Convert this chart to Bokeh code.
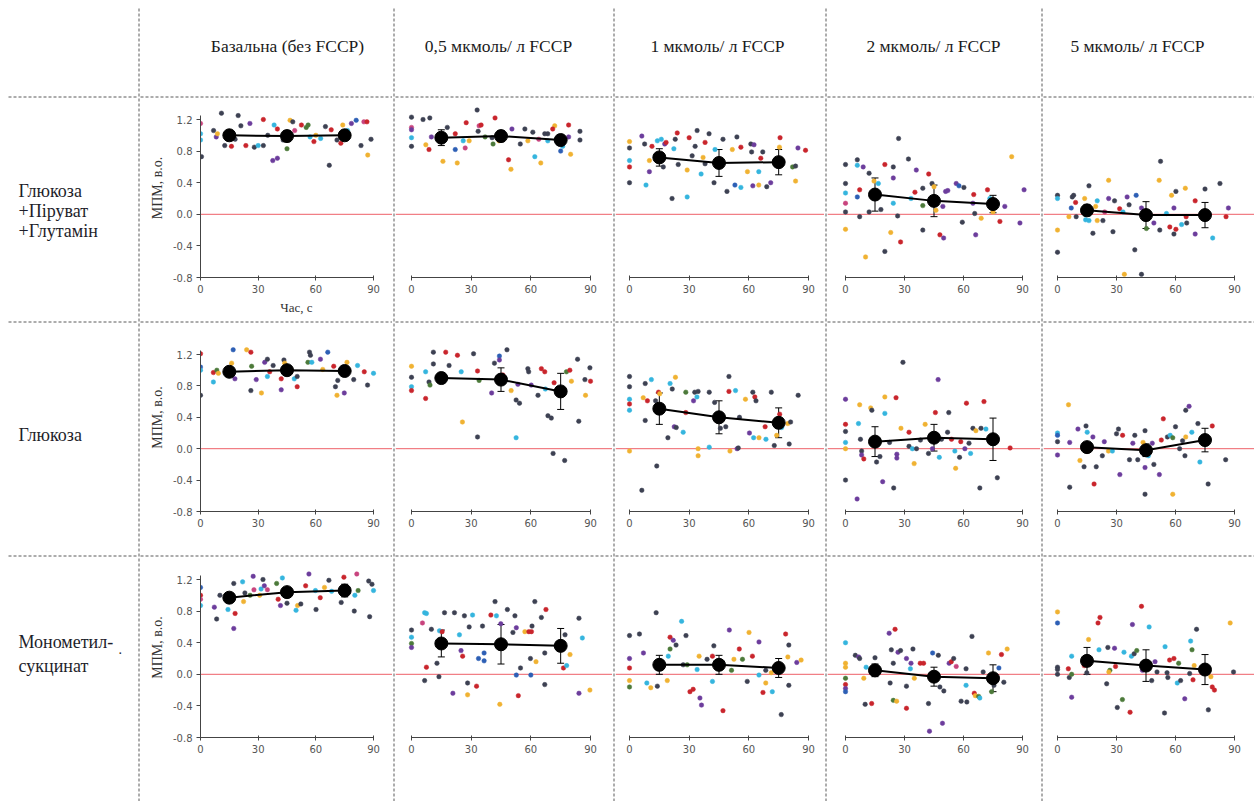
from bokeh.plotting import figure
from bokeh.layouts import row, column
from bokeh.models import Range1d, FixedTicker, PrintfTickFormatter, Span, Whisker, TeeHead, ColumnDataSource
from bokeh.core.properties import value
from bokeh.embed import file_html
from bokeh.resources import INLINE

# ---------------- data ----------------
col_headers = ["Базальна (без FCCP)", "0,5 мкмоль/ л FCCP", "1 мкмоль/ л FCCP",
               "2 мкмоль/ л FCCP", "5 мкмоль/ л FCCP"]
row_labels = [["Глюкоза", "+Піруват", "+Глутамін"], ["Глюкоза"], ["Монометил-", "сукцинат"]]
y_label = "МПМ, в.о."
x_label = "Час, с"
times = [15, 45, 75]
y_ticks = [-0.8, -0.4, 0.0, 0.4, 0.8, 1.2]
x_ticks = [0, 30, 60, 90]

COLORS = {'k': '#3d4152', 'r': '#c9252c', 'c': '#35b5de', 'p': '#6c3d9c',
          'o': '#f0b232', 'g': '#4c7a3a', 'm': '#c8447e', 'b': '#2d5fb5'}

# means and SEM per row: one list per FCCP column, values at 15, 45, 75 s
mean_gpg = [[1.0, 0.99, 1.0], [0.97, 0.99, 0.94], [0.72, 0.65, 0.66], [0.25, 0.17, 0.13], [0.05, -0.01, -0.01]]
err_gpg = [[0.06, 0.07, 0.05], [0.1, 0.07, 0.06], [0.11, 0.17, 0.16], [0.21, 0.2, 0.11], [0.07, 0.17, 0.16]]
mean_glc = [[0.98, 1.0, 0.99], [0.9, 0.88, 0.73], [0.51, 0.4, 0.33], [0.09, 0.14, 0.12], [0.02, -0.02, 0.11]]
err_glc = [[0.05, 0.05, 0.06], [0.04, 0.15, 0.23], [0.2, 0.21, 0.19], [0.19, 0.17, 0.27], [0.06, 0.08, 0.15]]
mean_mms = [[0.97, 1.04, 1.06], [0.39, 0.38, 0.36], [0.12, 0.12, 0.08], [0.05, -0.03, -0.05], [0.17, 0.11, 0.06]]
err_mms = [[0.04, 0.04, 0.08], [0.17, 0.25, 0.22], [0.12, 0.12, 0.12], [0.08, 0.12, 0.17], [0.17, 0.2, 0.19]]

# individual cells (time, value, colour)
gpg_basal = [(0,1.02,'c'),(0,0.94,'c'),(0.5,0.73,'k'),(0,1.15,'m'),(10.9,1.28,'k'),(19.6,1.25,'k'),(6.8,1.06,'k'),(8.2,0.98,'p'),(8.8,1.02,'o'),(12.6,0.87,'k'),(16.1,0.86,'r'),(21,1.12,'k'),(25.7,1.15,'p'),(23.6,0.87,'r'),(28,0.85,'k'),(30,0.87,'c'),(32.7,0.87,'k'),(32.7,1.2,'r'),(37.6,0.68,'p'),(40,0.71,'p'),(38.3,1.13,'c'),(40,1.08,'r'),(43,0.94,'k'),(45,0.83,'g'),(46.6,1.19,'o'),(48,1.17,'k'),(49,1.06,'m'),(52.5,1.13,'r'),(55,1.1,'g'),(56,1.13,'g'),(59,0.92,'r'),(57,0.98,'c'),(62.5,0.96,'c'),(65,1.11,'k'),(68,1.07,'r'),(67,0.62,'k'),(71,0.94,'k'),(73,0.9,'r'),(74,1.13,'o'),(76.5,1.06,'c'),(78.5,1.15,'p'),(81,1.19,'b'),(83.5,0.87,'k'),(85,1.17,'m'),(86.6,1.17,'r'),(87,0.75,'o'),(88.7,0.95,'k'),(14,1.0,'o'),(18,0.95,'k'),(35,1.0,'k'),(60,1.0,'o')]
gpg_05 = [(0,1.23,'k'),(0,1.10,'m'),(0,1.07,'p'),(0,0.97,'c'),(0,0.86,'k'),(5.8,1.2,'k'),(9.2,1.22,'k'),(7.2,0.88,'o'),(8.8,0.82,'r'),(10,0.98,'p'),(15.8,0.67,'o'),(18,1.1,'k'),(22,1.02,'r'),(22,0.82,'b'),(23,0.65,'o'),(26,0.93,'c'),(27,0.84,'m'),(27.5,1.16,'r'),(29,0.93,'o'),(33,1.32,'k'),(34,1.12,'m'),(35,1.13,'r'),(33.5,1.05,'k'),(37,0.98,'g'),(40.5,0.97,'k'),(42,1.22,'r'),(41,0.89,'g'),(44,0.93,'o'),(48.8,0.69,'r'),(50,0.57,'o'),(50.5,1.08,'p'),(54.7,0.89,'k'),(57,1.08,'k'),(58.5,0.93,'o'),(61,1.04,'k'),(62,0.73,'c'),(64,0.95,'m'),(65,0.65,'o'),(67,1.02,'k'),(68.5,1.02,'k'),(68.5,0.93,'c'),(72,1.12,'o'),(71,1.08,'r'),(75,0.8,'b'),(76,0.86,'c'),(79,1.13,'r'),(79,0.98,'p'),(80,0.76,'o'),(84.7,1.05,'k'),(84.7,0.94,'k')]
gpg_1 = [(0,0.92,'o'),(0,0.84,'k'),(0,0.68,'c'),(0,0.6,'r'),(0,0.4,'k'),(6.2,0.99,'p'),(7.6,0.89,'k'),(8.3,0.37,'c'),(10,0.54,'p'),(10,0.68,'o'),(11.3,0.86,'r'),(14,0.93,'c'),(16,0.95,'c'),(17.7,0.89,'p'),(18.4,0.91,'r'),(17,0.6,'k'),(21.4,0.2,'k'),(22.3,0.83,'c'),(23,0.95,'k'),(24,1.03,'r'),(24.5,0.63,'k'),(29,0.22,'c'),(29,0.56,'o'),(30,0.97,'r'),(31.5,0.74,'k'),(34,1.06,'k'),(33,0.86,'k'),(36,0.51,'c'),(37,0.72,'o'),(38,0.91,'r'),(38,0.64,'k'),(40,1.02,'k'),(42.5,0.4,'k'),(43,0.82,'c'),(47,0.95,'k'),(49,0.29,'k'),(51.7,0.82,'o'),(53,0.37,'b'),(54,0.98,'k'),(56,0.85,'r'),(56,0.34,'c'),(59.3,0.54,'o'),(61,0.89,'k'),(62.6,0.88,'p'),(61.4,0.79,'k'),(62,0.36,'p'),(65,0.54,'c'),(65,0.37,'o'),(66,0.71,'r'),(67,0.79,'k'),(69,0.35,'k'),(71,0.4,'p'),(75.7,0.97,'r'),(75.4,0.85,'o'),(82,0.6,'g'),(83.5,0.42,'o'),(84.7,0.84,'p'),(88.5,0.81,'r'),(83.5,0.61,'k')]
gpg_2 = [(0,0.63,'k'),(0,0.39,'k'),(0,0.27,'c'),(0,0.14,'m'),(0,0.03,'k'),(0,-0.19,'o'),(6,0.69,'k'),(6,0.62,'c'),(6,0.22,'b'),(7.2,0.31,'r'),(7.2,-0.03,'k'),(9,0.6,'p'),(10.2,-0.54,'o'),(12,0.52,'k'),(12,0.03,'k'),(14.5,0.42,'o'),(16.7,0.39,'c'),(18,0.06,'k'),(20,0.63,'r'),(20,-0.47,'k'),(23,-0.23,'o'),(24.3,0.6,'k'),(24.3,0.46,'p'),(24.3,0.14,'c'),(26.5,-0.02,'k'),(27,0.96,'k'),(28,-0.35,'r'),(32,0.7,'k'),(33.3,0.2,'c'),(36,0.56,'p'),(35.3,0.28,'r'),(39.3,0.33,'k'),(39.3,-0.2,'k'),(39.3,0.11,'g'),(42.3,0.51,'r'),(44,0.39,'k'),(45,0.35,'o'),(46,0.05,'o'),(48,-0.26,'r'),(49.9,-0.3,'p'),(49.5,0.1,'p'),(50.9,0.29,'p'),(52,0.3,'p'),(56.3,0.39,'p'),(57.7,0.36,'b'),(59.4,-0.1,'k'),(60.2,0.34,'k'),(65.2,0.25,'r'),(65.7,0.01,'k'),(66.2,-0.26,'p'),(64.8,0.14,'p'),(69,-0.05,'o'),(72.2,0.31,'r'),(73.4,0.2,'c'),(75,0.03,'o'),(78.5,-0.09,'r'),(81,0.1,'p'),(84.5,0.73,'o'),(88.7,-0.11,'p'),(90.8,0.31,'p')]
gpg_5 = [(0,0.24,'k'),(0,0.2,'c'),(0,-0.2,'o'),(0,-0.48,'k'),(5.8,-0.03,'o'),(7,0.08,'b'),(7.5,0.22,'k'),(8.2,0.24,'k'),(9.2,0.15,'r'),(9.5,-0.03,'k'),(13.8,0.2,'o'),(14.3,-0.07,'c'),(16,0.36,'k'),(16,-0.08,'c'),(16.7,0.03,'r'),(18,-0.24,'k'),(19.4,0.1,'o'),(20.2,0.17,'c'),(20.2,-0.08,'o'),(23.1,-0.08,'k'),(24,0.03,'m'),(26,0.43,'o'),(26,0.2,'p'),(28.2,-0.22,'k'),(29,0.17,'k'),(31.6,0.07,'r'),(33.3,0.03,'c'),(34,-0.76,'o'),(35.4,0.22,'p'),(36.4,0.12,'k'),(39.3,-0.45,'k'),(40,0.24,'b'),(42.7,-0.76,'k'),(42.7,0.08,'p'),(45.2,-0.18,'g'),(49,-0.11,'p'),(51.7,0.43,'o'),(52.4,0.67,'k'),(52,-0.2,'k'),(55.4,0.01,'c'),(57.1,-0.16,'r'),(58,0.24,'o'),(59.2,-0.25,'k'),(59.2,0.08,'p'),(60.2,0.29,'k'),(60.2,-0.19,'r'),(63.1,-0.13,'c'),(65,0.33,'o'),(65.4,-0.03,'r'),(65.7,-0.11,'k'),(70,0.17,'r'),(70,-0.25,'p'),(75,0.32,'k'),(78.9,-0.3,'c'),(82.6,0.39,'k'),(85.7,-0.03,'r'),(86.9,0.08,'p')]

glc_basal = [(0,1.21,'r'),(0,1.04,'b'),(0,1.0,'c'),(0,0.68,'k'),(6.7,0.97,'r'),(6.7,0.85,'c'),(8.5,1.0,'g'),(9.3,0.96,'o'),(16.2,1.09,'o'),(17,1.26,'b'),(17.9,0.89,'p'),(24,1.26,'o'),(26.2,1.23,'r'),(26.6,1.05,'g'),(26.2,0.74,'k'),(29,0.88,'p'),(31.7,0.71,'o'),(33.4,1.1,'p'),(34.8,1.14,'k'),(34.8,0.92,'c'),(36,0.98,'r'),(37.8,1.06,'k'),(42,0.89,'r'),(42,0.75,'p'),(43.4,1.13,'k'),(43.8,1.09,'o'),(48.8,0.89,'c'),(50.3,0.79,'r'),(50.3,0.92,'k'),(56.7,1.23,'k'),(57.2,1.19,'k'),(55.9,1.1,'g'),(57.9,1.1,'c'),(62.4,1.14,'p'),(66.2,1.23,'b'),(63.6,1.01,'o'),(69.3,1.05,'r'),(70.2,0.79,'k'),(71.4,0.87,'k'),(71,0.68,'o'),(74.8,0.71,'p'),(76.2,1.1,'o'),(79.7,0.88,'k'),(81.7,1.06,'c'),(85.2,0.98,'r'),(86.9,0.81,'k'),(90,0.96,'c')]
glc_05 = [(0,1.05,'o'),(0,0.91,'k'),(0,0.79,'c'),(0,0.74,'r'),(7.1,0.98,'c'),(7.1,0.64,'r'),(8.8,0.85,'k'),(9.3,0.81,'g'),(11,1.23,'k'),(11,1.08,'k'),(17.2,1.23,'r'),(18.9,1.06,'k'),(23.1,1.19,'r'),(25,0.98,'c'),(25.6,0.34,'o'),(31.2,1.21,'k'),(33.2,0.99,'r'),(33.2,0.15,'k'),(34,0.87,'g'),(40.3,0.71,'p'),(41.7,1.09,'k'),(44.2,1.18,'b'),(44.2,1.13,'p'),(45.9,0.94,'r'),(48,1.26,'k'),(50.1,0.74,'o'),(52.6,0.62,'k'),(54.3,0.58,'k'),(52.6,0.14,'c'),(53.5,0.82,'p'),(58.5,1.02,'k'),(58.9,0.98,'k'),(60.2,0.81,'p'),(63.6,0.68,'k'),(65.3,1.02,'r'),(67,0.98,'r'),(67.3,0.76,'c'),(68.6,0.42,'k'),(70.3,0.39,'k'),(71.7,0.84,'r'),(71.2,-0.06,'k'),(77,-0.15,'k'),(77.9,0.98,'g'),(79.6,1.0,'r'),(80.4,0.86,'o'),(83.5,1.14,'k'),(84.1,0.35,'k'),(87.2,0.88,'k'),(87.5,0.68,'o'),(89.7,1.03,'k'),(90,0.86,'r')]
glc_1 = [(0,0.92,'k'),(0,0.79,'k'),(0,0.63,'c'),(0,0.57,'r'),(0,0.49,'c'),(0,-0.03,'o'),(6.2,-0.53,'k'),(6.9,0.65,'o'),(7.9,0.83,'k'),(7.9,0.36,'k'),(9,0.61,'r'),(11,0.88,'c'),(13.1,0.61,'k'),(13.7,-0.22,'k'),(14.6,0.72,'r'),(15.2,0.7,'o'),(19.3,0.14,'k'),(20.4,0.83,'c'),(21.5,0.76,'k'),(22.5,0.28,'p'),(23.1,0.91,'o'),(23.5,0.27,'k'),(27,0.21,'c'),(28.3,0.72,'g'),(28.3,0.46,'r'),(32.2,0.61,'p'),(32.8,0.72,'k'),(33.9,0.66,'c'),(34.5,0.73,'k'),(34.5,0.0,'o'),(34.5,-0.09,'o'),(40.1,0.72,'k'),(40.1,0.02,'c'),(42.8,0.59,'k'),(44.3,0.43,'k'),(45.7,0.26,'k'),(48.4,0.28,'k'),(50,0.73,'r'),(50,0.92,'k'),(50.5,-0.03,'o'),(53.3,0.74,'c'),(54.1,0.0,'p'),(54.7,0.01,'k'),(55.3,0.4,'k'),(58.3,0.63,'o'),(60.3,0.2,'p'),(62,0.72,'k'),(62.4,0.14,'c'),(63,0.66,'r'),(63.6,0.61,'k'),(65.1,0.14,'o'),(68.2,0.28,'r'),(68.6,0.12,'c'),(71.3,0.72,'k'),(72.8,0.04,'k'),(74,0.17,'o'),(75.5,0.44,'r'),(76.5,0.27,'c'),(79.6,0.32,'o'),(80.3,0.06,'k'),(81,0.34,'k'),(84.8,0.68,'k')]
glc_2 = [(0,0.63,'p'),(0,0.31,'r'),(0,0.22,'k'),(0,0.08,'c'),(0,0.0,'o'),(0,-0.4,'k'),(5.9,-0.64,'p'),(6.6,0.32,'c'),(7.2,0.56,'o'),(7.6,0.12,'k'),(8.2,-0.03,'k'),(8.2,-0.08,'p'),(9.3,-0.13,'r'),(12.8,0.52,'o'),(13.4,0.49,'k'),(15.8,-0.17,'k'),(17.5,-0.1,'k'),(18.9,-0.42,'p'),(20,0.45,'c'),(20,0.66,'o'),(22.4,0.08,'k'),(24.5,-0.5,'k'),(25.7,0.65,'r'),(26.1,-0.07,'p'),(26.1,-0.12,'p'),(28.2,0.26,'o'),(29.2,1.1,'k'),(32.3,0.03,'k'),(32.3,0.21,'r'),(34,0.0,'c'),(34.9,-0.19,'o'),(36.1,0.0,'k'),(38.1,0.11,'k'),(40.5,0.31,'o'),(42.2,-0.06,'k'),(44.2,0.0,'p'),(45.7,0.46,'r'),(47.1,0.88,'p'),(47.7,-0.11,'c'),(48.8,0.12,'k'),(51.9,0.21,'k'),(52.5,0.46,'k'),(53.9,0.12,'r'),(55.6,-0.03,'c'),(56,-0.25,'o'),(58,-0.11,'k'),(58.6,0.09,'r'),(60.7,0.0,'p'),(61.5,0.58,'r'),(62.8,0.07,'k'),(63.6,-0.06,'c'),(64.8,0.26,'k'),(66.3,0.23,'o'),(68.3,-0.5,'k'),(68.9,0.26,'k'),(70.4,0.6,'r'),(71.4,0.25,'c'),(77.2,-0.37,'k'),(83.7,0.01,'r')]
glc_5 = [(0,0.2,'c'),(0,0.17,'b'),(0,0.09,'k'),(0,-0.08,'p'),(5.6,0.56,'o'),(6.2,0.08,'p'),(6.2,-0.49,'k'),(10.4,0.25,'p'),(11.4,-0.15,'o'),(13.5,-0.23,'k'),(14.5,0.29,'k'),(15.1,0.21,'c'),(16.6,0.03,'k'),(18,0.15,'p'),(18.6,-0.45,'r'),(19.7,-0.23,'k'),(22.8,-0.09,'k'),(23.8,0.09,'p'),(25.9,-0.03,'o'),(27.9,-0.03,'c'),(30,0.19,'k'),(31,0.25,'k'),(31.7,-0.33,'p'),(33.1,0.17,'r'),(36.6,-0.14,'k'),(38.3,0.07,'p'),(39.3,0.17,'k'),(40.8,-0.14,'k'),(43.5,0.08,'o'),(44.5,0.23,'k'),(44.5,-0.24,'p'),(44.5,-0.58,'k'),(46.2,-0.09,'c'),(48.2,0.07,'p'),(49,-0.2,'k'),(51.8,-0.33,'p'),(52.8,0.11,'r'),(53.8,0.38,'r'),(55.9,0.15,'k'),(57.3,0.17,'c'),(58.6,-0.58,'o'),(58.6,0.14,'g'),(60,0.28,'k'),(62.1,0.0,'k'),(63.6,0.1,'k'),(64.8,-0.09,'k'),(65.2,0.15,'o'),(65.2,0.49,'k'),(66.9,0.54,'p'),(68.3,0.21,'c'),(71.4,0.32,'k'),(72.4,-0.17,'c'),(76.6,-0.45,'k'),(78.7,0.29,'r'),(85.5,-0.14,'k')]

mms_basal = [(0,1.1,'b'),(0,1.0,'r'),(0,0.95,'m'),(0,0.87,'c'),(7.2,0.85,'p'),(8.4,0.7,'k'),(10.1,1.0,'k'),(15.2,0.93,'r'),(14.3,0.82,'c'),(17.3,1.15,'k'),(17.3,0.58,'p'),(18,0.77,'r'),(21.9,1.17,'c'),(22.4,0.92,'o'),(23.1,1.03,'k'),(25.8,1.0,'g'),(27.4,1.24,'p'),(27.8,1.07,'m'),(30.8,1.0,'o'),(31.5,1.08,'c'),(32.5,1.2,'k'),(33.2,1.12,'p'),(34.8,1.07,'m'),(39.6,1.15,'g'),(40.4,0.95,'r'),(41.6,0.87,'p'),(42.6,1.22,'c'),(45,0.9,'k'),(49.7,0.81,'c'),(50.5,0.87,'o'),(52.2,0.89,'k'),(54.7,1.12,'r'),(56.4,1.27,'p'),(60.1,0.82,'k'),(59.8,1.06,'c'),(62.3,0.97,'r'),(64.5,1.1,'o'),(66.8,1.19,'k'),(68.2,1.05,'c'),(73.2,0.91,'k'),(74.6,1.23,'r'),(75.3,1.02,'m'),(80,0.8,'k'),(80.3,1.0,'c'),(81.3,1.27,'m'),(82,1.06,'g'),(87.5,1.18,'k'),(88,0.73,'k'),(89.2,1.14,'k'),(90,1.06,'c')]
mms_05 = [(0,0.56,'k'),(0,0.47,'c'),(0,0.39,'g'),(0,0.34,'p'),(5.5,0.65,'m'),(6.6,0.78,'c'),(7.5,0.77,'c'),(6.6,-0.08,'k'),(7.5,0.09,'r'),(10,0.57,'k'),(12.8,0.14,'k'),(13.8,-0.03,'k'),(14.1,0.55,'c'),(15.4,0.54,'r'),(16.6,0.78,'k'),(20.8,-0.24,'p'),(21.6,0.78,'k'),(24.1,0.5,'c'),(24.9,0.3,'p'),(25.7,0.23,'r'),(26.6,0.74,'k'),(28.2,-0.11,'k'),(28.2,-0.26,'o'),(29,0.6,'k'),(30.7,0.75,'c'),(32.7,-0.15,'r'),(33.7,0.2,'b'),(35.7,0.61,'k'),(36.5,0.27,'b'),(36.5,0.17,'b'),(39.9,0.75,'r'),(42,0.92,'k'),(42.7,0.74,'c'),(44.4,-0.38,'o'),(44.9,0.64,'p'),(45.7,0.37,'r'),(48.2,0.82,'k'),(51,0.53,'k'),(52,0.74,'k'),(52.7,0.59,'p'),(52.7,-0.01,'b'),(53.7,-0.27,'r'),(54.8,0.08,'k'),(57,0.54,'o'),(59,0.54,'r'),(60.3,0.54,'r'),(59.8,0.2,'k'),(60.6,0.61,'k'),(60,-0.01,'b'),(62,0.92,'k'),(62.6,0.16,'o'),(65.3,0.72,'k'),(67,0.27,'k'),(67,-0.13,'k'),(67.6,0.82,'r'),(76.4,0.08,'r'),(77.2,0.5,'k'),(78,0.11,'c'),(79.7,0.25,'o'),(84.2,0.71,'k'),(84.2,-0.24,'p'),(85.9,0.46,'c'),(89.7,-0.2,'o')]
mms_1 = [(0,0.49,'k'),(0,0.2,'p'),(0,0.08,'r'),(0,-0.08,'o'),(0,-0.16,'g'),(5,0.51,'k'),(7,0.27,'p'),(8.7,-0.11,'c'),(10.7,-0.17,'o'),(13.4,0.78,'k'),(14,-0.15,'k'),(14.5,0.16,'k'),(19,-0.08,'o'),(19.5,0.23,'c'),(20.4,0.32,'g'),(20.4,0.47,'r'),(22,0.43,'p'),(23.4,0.37,'k'),(26.2,0.67,'c'),(27,0.12,'k'),(28.4,0.49,'k'),(29,0.12,'g'),(30.4,-0.22,'r'),(32,-0.19,'r'),(34,0.06,'c'),(35,0.23,'o'),(35.4,-0.3,'p'),(36.2,-0.39,'p'),(39,0.19,'k'),(41.7,-0.09,'c'),(41.7,0.23,'r'),(42.4,0.36,'k'),(47,-0.46,'r'),(50.2,0.56,'p'),(51.3,0.05,'g'),(52.5,0.19,'o'),(55.2,0.32,'r'),(56.8,0.19,'g'),(59.2,-0.09,'k'),(60.1,0.53,'o'),(61.8,0.23,'r'),(65.1,0.41,'p'),(65.1,-0.01,'c'),(67.1,-0.23,'r'),(68.5,-0.11,'o'),(68.5,0.05,'k'),(71.8,-0.22,'c'),(71.3,0.02,'o'),(76.3,-0.51,'k'),(78.5,0.51,'r'),(79.6,0.22,'o'),(80.1,0.37,'k'),(80.1,-0.14,'k'),(84.1,0.15,'p'),(86.3,0.18,'o')]
mms_2 = [(0,0.4,'c'),(0,0.14,'o'),(0,0.09,'o'),(0,-0.05,'g'),(0,-0.13,'r'),(0,-0.18,'p'),(0,-0.22,'b'),(5,0.24,'k'),(6.7,0.22,'p'),(7.2,0.2,'k'),(9.3,-0.05,'o'),(10,-0.38,'k'),(10.5,0.09,'c'),(13.3,-0.37,'r'),(15,0.21,'k'),(15.5,0.05,'m'),(22.2,0.52,'p'),(22.7,-0.11,'k'),(23.3,0.31,'k'),(24.3,-0.33,'g'),(25.2,0.57,'r'),(26,-0.34,'o'),(24.3,0.14,'k'),(26.7,0.28,'p'),(28,0.3,'k'),(31,0.2,'p'),(31,-0.15,'k'),(31,-0.43,'r'),(33,0.07,'c'),(33.3,0.14,'p'),(34.3,0.32,'k'),(35,-0.05,'o'),(38,0.14,'r'),(39.7,0.14,'r'),(42.2,-0.37,'k'),(42.7,-0.72,'p'),(44.3,0.27,'b'),(47.2,0.24,'k'),(48,-0.16,'k'),(49.3,-0.62,'p'),(50,-0.21,'k'),(52.7,0.14,'p'),(53.8,0.16,'r'),(55,0.2,'k'),(56.3,0.1,'m'),(58.8,-0.34,'k'),(61.3,0.07,'k'),(61.3,-0.14,'c'),(61.7,-0.35,'k'),(64.3,0.48,'k'),(65.5,-0.24,'r'),(66,-0.27,'o'),(67.7,-0.28,'g'),(68.3,-0.3,'c'),(70,0.03,'k'),(72.7,0.27,'o'),(74.3,-0.22,'g'),(75.5,-0.14,'k'),(78,0.08,'b'),(79.3,0.25,'r'),(80.5,-0.1,'k'),(82.2,0.32,'o')]
mms_5 = [(0,0.79,'o'),(0,0.65,'b'),(0,0.09,'k'),(0,0.06,'k'),(0,0.0,'k'),(5.5,0.07,'r'),(6,-0.04,'k'),(7.2,0.0,'g'),(7.2,0.23,'c'),(7.2,-0.29,'p'),(13.6,0.11,'r'),(15.8,0.44,'o'),(14.9,0.02,'k'),(20.6,0.65,'r'),(21.6,0.72,'r'),(21.1,0.31,'c'),(25,-0.12,'k'),(25.6,0.34,'k'),(26.6,0.05,'g'),(26.1,0.03,'o'),(29,0.33,'p'),(29.5,0.1,'r'),(30.4,-0.42,'k'),(33,-0.32,'g'),(33.8,0.28,'c'),(36.9,-0.48,'r'),(37.6,0.23,'c'),(38.1,0.63,'p'),(39,0.26,'k'),(40.3,0.3,'g'),(42.7,0.86,'r'),(43.2,0.05,'p'),(46.6,0.6,'c'),(47.9,-0.08,'k'),(49.6,0.16,'p'),(50.6,0.03,'k'),(54.4,-0.49,'k'),(54.7,0.35,'c'),(55.7,0.02,'k'),(56.1,-0.04,'k'),(57,0.18,'r'),(59.2,0.2,'r'),(60.9,-0.11,'c'),(61.6,0.14,'g'),(62.6,-0.08,'k'),(64.7,-0.31,'p'),(67.2,0.01,'k'),(67.7,0.42,'c'),(68.4,0.31,'g'),(68.9,-0.07,'r'),(69.5,0.11,'o'),(70.7,0.57,'k'),(76.7,-0.45,'k'),(78,-0.03,'o'),(78.7,-0.16,'r'),(79.8,-0.2,'r'),(87.8,0.65,'o'),(89.5,0.03,'k')]

cells = [[gpg_basal, gpg_05, gpg_1, gpg_2, gpg_5],
         [glc_basal, glc_05, glc_1, glc_2, glc_5],
         [mms_basal, mms_05, mms_1, mms_2, mms_5]]
means = [mean_gpg, mean_glc, mean_mms]
errs = [err_gpg, err_glc, err_mms]

# ---------------- layout geometry (pixels) ----------------
W_TOTAL, H_TOTAL = 1254, 801
LABEL_W = 137
SEP = 3
col_w = [252, 217, 209, 213, 211]
HEAD_H = 98                      # header cell incl. the dashed rule under it
row_h = [225, 234, 244]          # panel cells incl. the dashed rule under them
axis_x = [(200, 373), (411, 590), (629, 808), (845, 1022), (1057, 1234)]   # px of t=0 and t=90
axis_y = [(119, 277), (354, 511), (579, 737)]                              # px of 1.2 and -0.8
header_cx = [287, 498, 717, 933, 1137]
header_cy = 45
label_x = 18
label_y = [[190, 210, 230], [434], [641, 665]]

col_left = []
acc = LABEL_W + SEP
for w in col_w:
    col_left.append(acc)
    acc += w + SEP
row_top = []
acc = HEAD_H
for h in row_h:
    row_top.append(acc)
    acc += h
rule_y = [HEAD_H - SEP / 2] + [row_top[r] + row_h[r] - SEP / 2 for r in range(2)]

SEP_COLOR = "#5a5a5a"
SEP_DASH = "3 2"
TICK_FONT = "DejaVu Sans"
SERIF = "Liberation Serif"


def blank(w, h, xr, yr, mbl=0):
    p = figure(width=w, height=h, x_range=Range1d(*xr), y_range=Range1d(*yr),
               toolbar_location=None, x_axis_type=None, y_axis_type=None,
               outline_line_color=None, output_backend="svg")
    p.min_border_left = mbl
    p.min_border_right = 0
    p.min_border_top = 0
    p.min_border_bottom = 0
    return p


def vsep():
    p = blank(SEP, H_TOTAL, (0, SEP), (H_TOTAL, 0))
    p.segment(x0=[SEP / 2], y0=[8], x1=[SEP / 2], y1=[H_TOTAL], line_color=SEP_COLOR,
              line_dash=SEP_DASH, line_width=1)
    return p


def col_scale(c):
    x0, x90 = axis_x[c]
    ppx = (x90 - x0) / 90.0
    left, W = col_left[c], col_w[c]
    mbl = (x0 - left) if c == 0 else 0
    xs = (left + mbl - x0) / ppx
    xe = 90 + (left + W - x90) / ppx
    xl = (left - x0) / ppx          # data x of the cell's left edge
    return ppx, mbl, xs, xe, xl


def header(c):
    ppx, mbl, xs, xe, xl = col_scale(c)
    p = blank(col_w[c], HEAD_H, (xs, xe), (HEAD_H, 0), mbl)
    x0 = axis_x[c][0]
    p.text(x=[(header_cx[c] - x0) / ppx], y=[header_cy], text=[col_headers[c]],
           text_font=value(SERIF), text_font_size="17.5px", text_color="#1a1a1a",
           text_align="center", text_baseline="middle")
    p.segment(x0=[xl], y0=[rule_y[0]], x1=[xe], y1=[rule_y[0]], line_color=SEP_COLOR,
              line_dash=SEP_DASH, line_width=1, level="overlay")
    return p


def label_column():
    p = blank(LABEL_W, H_TOTAL, (0, LABEL_W), (H_TOTAL, 0))
    p.segment(x0=[8] * 3, y0=rule_y, x1=[LABEL_W] * 3, y1=rule_y, line_color=SEP_COLOR,
              line_dash=SEP_DASH, line_width=1)
    tx, ty, tt = [], [], []
    for r in range(3):
        for line, yy in zip(row_labels[r], label_y[r]):
            tx.append(label_x)
            ty.append(yy)
            tt.append(line)
    p.text(x=tx, y=ty, text=tt, text_font=value(SERIF), text_font_size="18px",
           text_color="#1e1e2a", text_align="left", text_baseline="middle")
    p.text(x=[118], y=[648], text=["."], text_font=value(SERIF), text_font_size="14px",
           text_color="#1e1e2a", text_align="left", text_baseline="middle")
    return p


def panel(r, c):
    W, H = col_w[c], row_h[r]
    top = row_top[r]
    ppx, mbl, xs, xe, xl = col_scale(c)
    ya, yb = axis_y[r]
    ppy = (yb - ya) / 2.0
    frame_h = yb - top
    ye = -0.8 + frame_h / ppy
    mbb = H - frame_h
    p = figure(width=W, height=H, x_range=Range1d(xs, xe), y_range=Range1d(-0.8, ye),
               toolbar_location=None, output_backend="svg", outline_line_color=None,
               y_axis_type="linear" if c == 0 else None)
    p.min_border_left = mbl
    p.min_border_right = 0
    p.min_border_top = 0
    p.min_border_bottom = mbb
    p.xgrid.visible = False
    p.ygrid.visible = False

    ax = p.xaxis[0]
    ax.ticker = FixedTicker(ticks=x_ticks)
    ax.bounds = (0, 90)
    ax.axis_line_color = "#444444"
    ax.major_tick_line_color = "#444444"
    ax.major_tick_in = 2
    ax.major_tick_out = 3
    ax.minor_tick_line_color = None
    ax.major_label_text_font = TICK_FONT
    ax.major_label_text_font_size = "10px"
    ax.major_label_text_color = "#555555"
    ax.major_label_standoff = 4
    if r == 0 and c == 0:
        ax.axis_label = x_label
        ax.axis_label_text_font = SERIF
        ax.axis_label_text_font_size = "13px"
        ax.axis_label_text_font_style = "normal"
        ax.axis_label_text_color = "#333333"
        ax.axis_label_standoff = 4

    if c == 0:
        ay = p.yaxis[0]
        ay.ticker = FixedTicker(ticks=y_ticks)
        ay.formatter = PrintfTickFormatter(format="%.1f")
        ay.bounds = (-0.8, 1.25)
        ay.axis_line_color = "#444444"
        ay.major_tick_line_color = "#444444"
        ay.major_tick_in = 0
        ay.major_tick_out = 4
        ay.minor_tick_line_color = None
        ay.major_label_text_font = TICK_FONT
        ay.major_label_text_font_size = "10px"
        ay.major_label_text_color = "#555555"
        ay.major_label_standoff = 4
        ay.axis_label = y_label
        ay.axis_label_text_font = SERIF
        ay.axis_label_text_font_size = "14px"
        ay.axis_label_text_font_style = "normal"
        ay.axis_label_text_color = "#333333"
        ay.axis_label_standoff = 5

    p.add_layout(Span(location=0, dimension="width", line_color="#ee6068", line_width=1,
                      level="underlay"))

    pts = cells[r][c]
    src = ColumnDataSource(data=dict(x=[q[0] for q in pts], y=[q[1] for q in pts],
                                     col=[COLORS[q[2]] for q in pts]))
    p.scatter("x", "y", source=src, size=4.5, fill_color="col", line_color="col",
              line_width=0.5)

    m = means[r][c]
    e = errs[r][c]
    msrc = ColumnDataSource(data=dict(t=times, m=m, lo=[a - b for a, b in zip(m, e)],
                                      hi=[a + b for a, b in zip(m, e)]))
    p.add_layout(Whisker(source=msrc, base="t", upper="hi", lower="lo", line_color="black",
                         line_width=1,
                         upper_head=TeeHead(size=7, line_color="black", line_width=1),
                         lower_head=TeeHead(size=7, line_color="black", line_width=1)))
    p.line("t", "m", source=msrc, line_color="black", line_width=2)
    p.scatter("t", "m", source=msrc, size=13, fill_color="black", line_color="black")

    # dashed rule under the cell (lies in the bottom border, so drawn unclipped)
    if r < 2:
        yr = -0.8 - (top + H - SEP / 2 - yb) / ppy
        p.segment(x0=[xl], y0=[yr], x1=[xe], y1=[yr], line_color=SEP_COLOR,
                  line_dash=SEP_DASH, line_width=1, level="overlay")
    return p


children = [label_column(), vsep()]
for c in range(5):
    items = [header(c)] + [panel(r, c) for r in range(3)]
    children.append(column(*items, spacing=0))
    if c < 4:
        children.append(vsep())

layout = row(*children, spacing=0)

with open("out.html", "w") as f:
    f.write(file_html(layout, INLINE, title="FCCP panels"))
